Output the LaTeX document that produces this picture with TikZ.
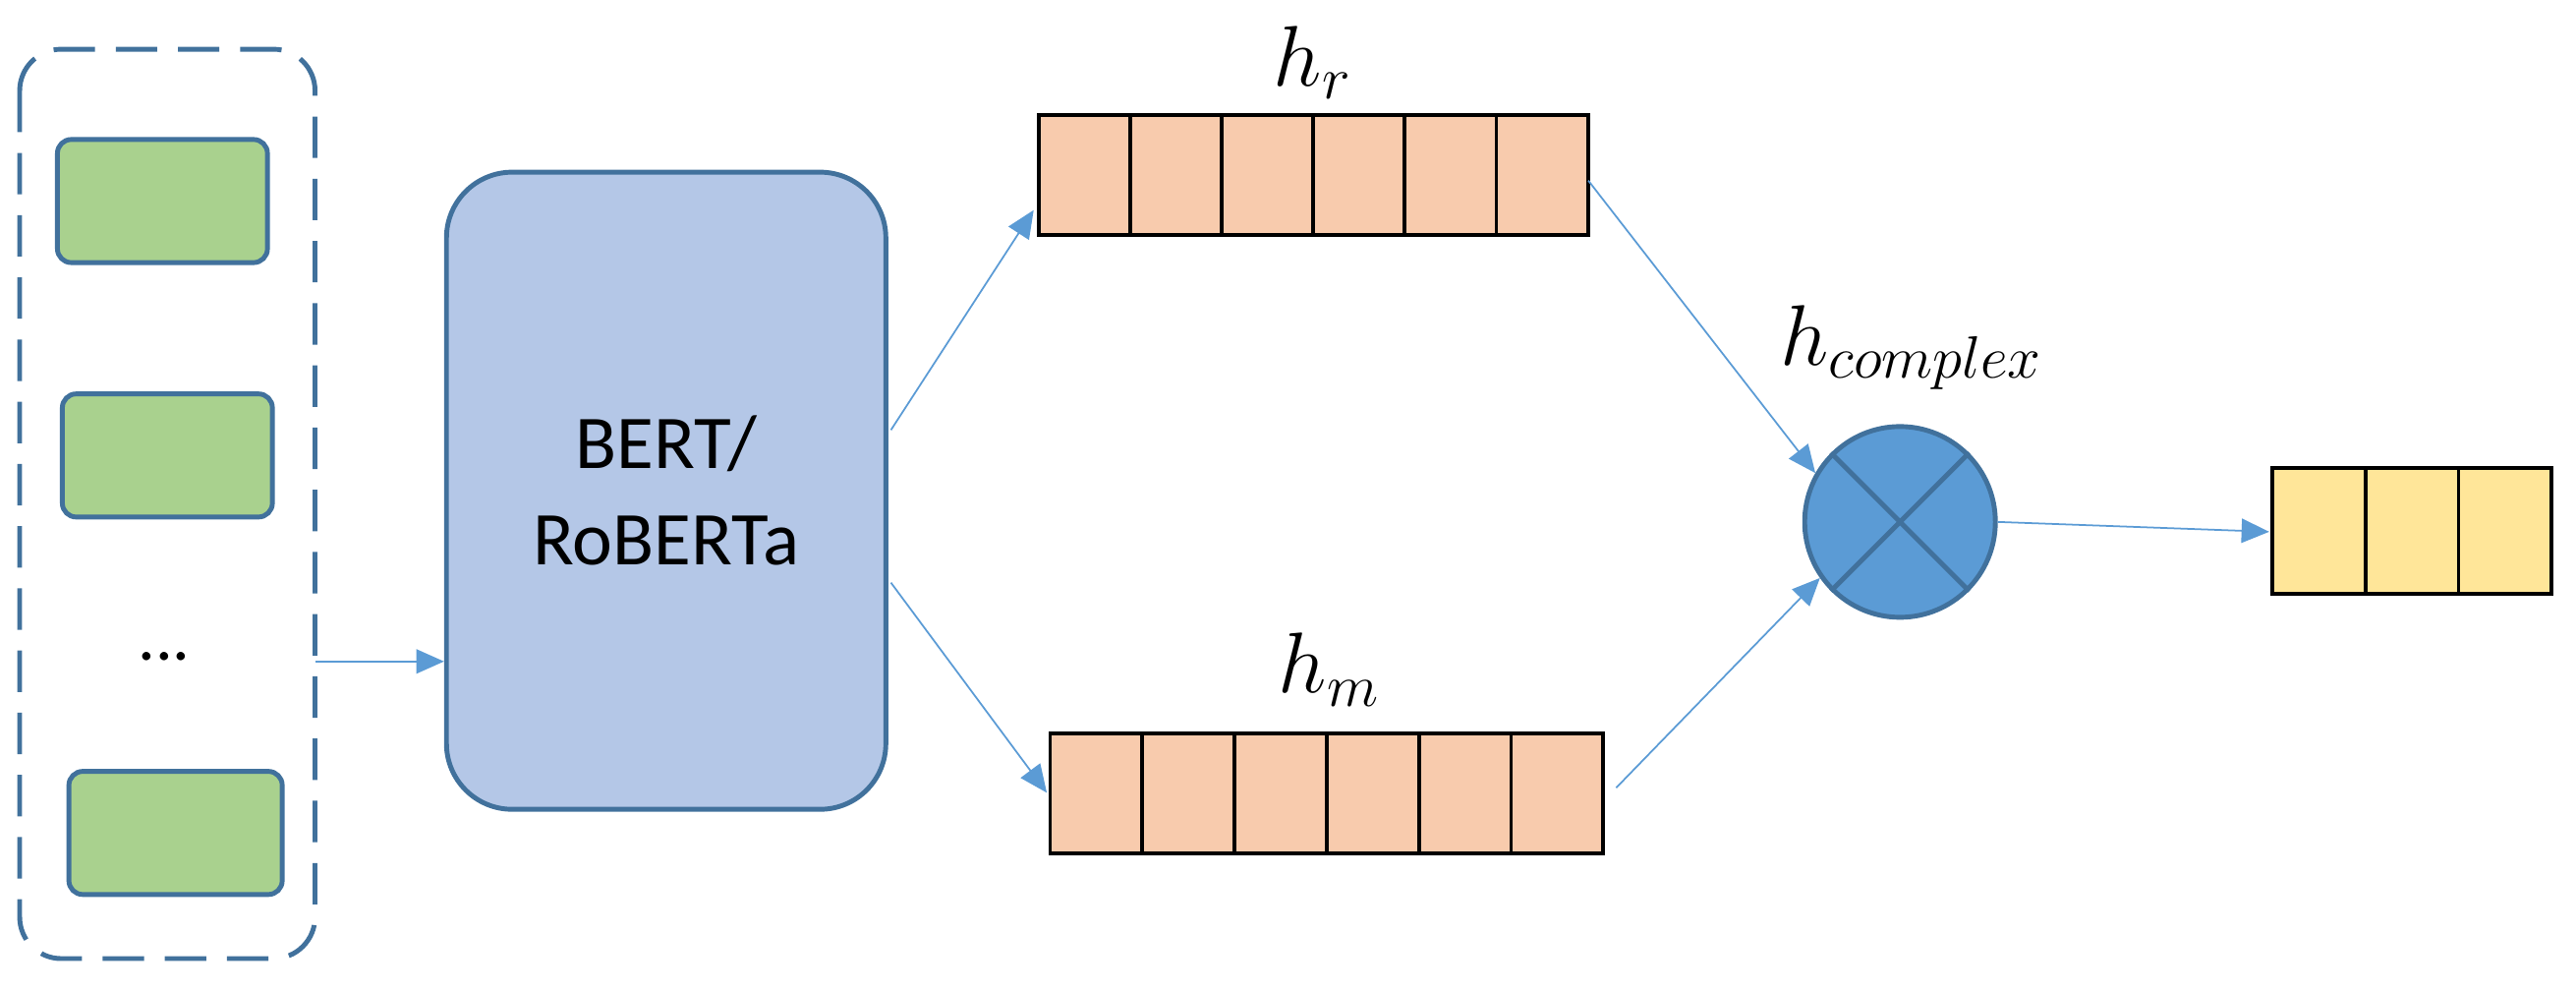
\documentclass[tikz,border=0pt]{standalone}
\usepackage{fontspec}
\setmainfont{Carlito}
\usetikzlibrary{arrows.meta}
\definecolor{bd}{HTML}{41719C}
\definecolor{gf}{HTML}{A9D18E}
\definecolor{bf}{HTML}{B4C7E7}
\definecolor{of}{HTML}{F8CBAD}
\definecolor{yf}{HTML}{FFE699}
\definecolor{cf}{HTML}{5B9BD5}
\definecolor{ar}{HTML}{5B9BD5}
\begin{document}
\begin{tikzpicture}[x=0.016694cm,y=-0.016694cm,
  gbox/.style={draw=bd,fill=gf,line width=1.4pt,rounded corners=4pt},
  conn/.style={draw=ar,line width=0.5pt,-{Triangle[length=8pt,width=7pt]}},
  cell/.style={draw=black,line width=1.1pt},
  lab/.style={font=\fontsize{24}{28}\selectfont}]
\useasboundingbox (0,0) rectangle (1570,604.4);
\draw[bd,line width=1.4pt,dash pattern=on 12pt off 6pt,rounded corners=12pt] (12,30) rectangle (192,975/1.6694);
\draw[gbox] (35,85) rectangle (163,160);
\draw[gbox] (38,240) rectangle (166,315);
\node[font=\fontsize{20}{24}\selectfont] (dots) at (100,400) {...};
\draw[gbox] (42,470) rectangle (172,545);
\coordinate (inl) at (192,403);
\node[draw=bd,fill=bf,line width=1.4pt,rounded corners=19pt,minimum width=4.47cm,minimum height=6.48cm,align=center,font=\fontsize{22}{28}\selectfont] (bert) at (406,299) {BERT/\\RoBERTa};
\draw[conn] (inl) -- (bert.west|-inl);
\foreach \i in {0,...,5}{\draw[cell,fill=of] (633+\i*55.8,70) rectangle (633+\i*55.8+55.8,143);}
\node[lab] (hr) at (800,38) {$h_r$};
\foreach \i in {0,...,5}{\draw[cell,fill=of] (640+\i*56.2,447) rectangle (640+\i*56.2+56.2,520);}
\node[lab] (hm) at (810,408) {$h_m$};
\coordinate (b1) at (543,262); \coordinate (r1) at (630,128);
\coordinate (b2) at (543,355); \coordinate (m1) at (638,483);
\draw[conn] (b1) -- (r1);
\draw[conn] (b2) -- (m1);
\node[circle,draw=bd,fill=cf,line width=1.4pt,minimum size=1.94cm,inner sep=0pt] (c) at (1158,318) {};
\draw[bd,line width=1.4pt] (c.45) -- (c.225) (c.135) -- (c.315);
\node[lab] (hc) at (1165,212) {$h_{complex}$};
\coordinate (r2) at (968,110); \coordinate (m2) at (985,480);
\draw[conn] (r2) -- (c.150);
\draw[conn] (m2) -- (c.215);
\foreach \i in {0,...,2}{\draw[cell,fill=yf] (1385+\i*56.7,285) rectangle (1385+\i*56.7+56.7,362);}
\coordinate (y) at (1383,324);
\draw[conn] (c.east) -- (y);
\end{tikzpicture}
\end{document}
